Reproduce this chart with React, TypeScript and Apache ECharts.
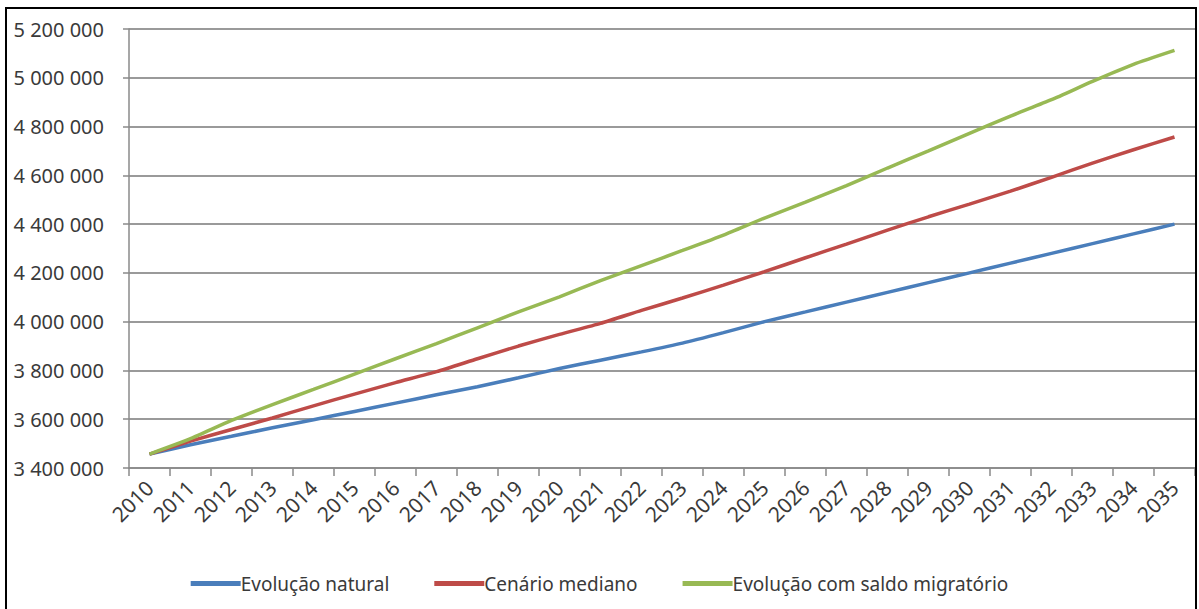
import React, { useEffect, useRef } from "react";
import * as echarts from "echarts";

const years = [
  "2010", "2011", "2012", "2013", "2014", "2015", "2016", "2017", "2018", "2019",
  "2020", "2021", "2022", "2023", "2024", "2025", "2026", "2027", "2028", "2029",
  "2030", "2031", "2032", "2033", "2034", "2035",
];

const evolucaoNatural = [
  3457000, 3495000, 3530000, 3565000, 3598000, 3632000, 3666000, 3700000, 3733000, 3770000,
  3808000, 3842000, 3876000, 3912000, 3955000, 4000000, 4040000, 4080000, 4120000, 4160000,
  4200000, 4240000, 4280000, 4320000, 4360000, 4400000,
];

const cenarioMediano = [
  3457000, 3510000, 3558000, 3605000, 3655000, 3703000, 3750000, 3795000, 3848000, 3900000,
  3948000, 3993000, 4046000, 4097000, 4150000, 4205000, 4262000, 4318000, 4375000, 4430000,
  4482000, 4535000, 4592000, 4650000, 4705000, 4757000,
];

const evolucaoMigratorio = [
  3457000, 3520000, 3595000, 3660000, 3722000, 3785000, 3848000, 3910000, 3975000, 4040000,
  4102000, 4168000, 4230000, 4292000, 4355000, 4425000, 4490000, 4558000, 4630000, 4700000,
  4772000, 4843000, 4910000, 4985000, 5055000, 5112000,
];

const seriesNames = ["Evolução natural", "Cenário mediano", "Evolução com saldo migratório"];
const seriesColors = ["#4a7ebb", "#be4b48", "#98b954"];

const yMin = 3400000;
const yMax = 5200000;
const yStep = 200000;

const fmt = (v: number) => String(Math.round(v)).replace(/\B(?=(\d{3})+(?!\d))/g, " ");

export default function App() {
  const ref = useRef<HTMLDivElement>(null);

  useEffect(() => {
    if (!ref.current) return;
    const chart = echarts.init(ref.current, undefined, { renderer: "svg" });
    const font = "'Noto Sans', sans-serif";
    const dataSets = [evolucaoNatural, cenarioMediano, evolucaoMigratorio];
    chart.setOption({
      animation: false,
      backgroundColor: "#ffffff",
      textStyle: { fontFamily: font },
      grid: { left: 129, right: 4, top: 29, bottom: 141, containLabel: false },
      legend: {
        bottom: 11,
        left: "center",
        icon: "rect",
        itemWidth: 50,
        itemHeight: 5,
        itemGap: 45,
        textStyle: { fontFamily: font, fontSize: 19, color: "#3a3a3a", padding: [0, 0, 0, -5] },
        data: seriesNames,
      },
      xAxis: {
        type: "category",
        data: years,
        boundaryGap: true,
        axisLine: { lineStyle: { color: "#8a8a8a", width: 1.5 } },
        axisTick: { show: true, interval: 0, length: 8, lineStyle: { color: "#8a8a8a", width: 1.5 } },
        axisLabel: {
          interval: 0,
          rotate: 45,
          margin: 16,
          fontFamily: font,
          fontSize: 21,
          color: "#3a3a3a",
        },
        splitLine: { show: false },
      },
      yAxis: {
        type: "value",
        min: yMin,
        max: yMax,
        interval: yStep,
        axisLine: { show: true, lineStyle: { color: "#8a8a8a", width: 1.5 } },
        axisTick: { show: true, length: 6, lineStyle: { color: "#8a8a8a", width: 1.5 } },
        axisLabel: {
          margin: 25,
          fontFamily: font,
          fontSize: 20,
          color: "#3a3a3a",
          formatter: (v: number) => fmt(v),
        },
        splitLine: { show: true, lineStyle: { color: "#9a9a9a", width: 2 } },
      },
      graphic: [
        {
          type: "rect",
          shape: { x: 6, y: 8, width: 1190, height: 620 },
          style: { fill: "none", stroke: "#000000", lineWidth: 2 },
          silent: true,
          z: 100,
        },
      ],
      series: seriesNames.map((name, i) => ({
        name,
        type: "line",
        data: dataSets[i],
        showSymbol: false,
        symbol: "none",
        smooth: 0.2,
        lineStyle: { width: 3.5, color: seriesColors[i] },
        itemStyle: { color: seriesColors[i] },
      })),
    });
    return () => chart.dispose();
  }, []);

  return (
    <div
      ref={ref}
      style={{ position: "fixed", left: 0, top: 0, width: 1199, height: 609 }}
    />
  );
}
